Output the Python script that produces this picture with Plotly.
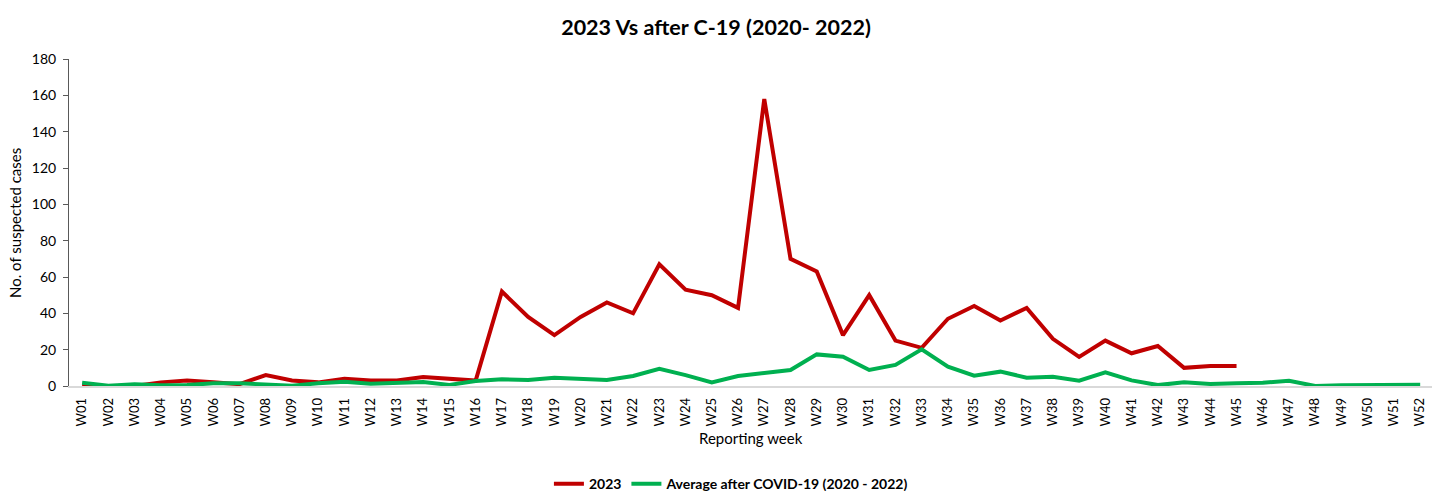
import plotly.graph_objects as go

# Reporting weeks W01..W52
weeks = [f"W{i:02d}" for i in range(1, 53)]

# Suspected cases in 2023 (reported up to W45)
cases_2023 = [0, 0, 0, 2, 3, 2, 1, 6, 3, 2, 4, 3, 3, 5, 4, 3,
              52, 38, 28, 38, 46, 40, 67, 53, 50, 43, 158, 70, 63, 28,
              50, 25, 21, 37, 44, 36, 43, 26, 16, 25, 18, 22, 10, 11, 11]

# Weekly average after COVID-19 (2020 - 2022)
avg_after_covid = [1.8, 0.2, 0.9, 0.4, 0.5, 1.5, 1.5, 0.6, 0.2, 1.5, 2.4, 1.2, 1.5,
                   2.2, 0.6, 2.8, 3.7, 3.3, 4.6, 3.7, 3.3, 5.5, 9.4, 6.0, 2.0, 5.5,
                   7.3, 8.8, 17.4, 16.1, 8.8, 11.6, 20.2, 10.6, 5.7, 7.9, 4.6, 5.1,
                   2.9, 7.5, 3.1, 0.5, 2.0, 1.1, 1.5, 1.8, 2.9, 0.0, 0.4, 0.4, 0.5, 0.7]

font_family = "Lato, 'Open Sans', sans-serif"

fig = go.Figure()
fig.add_trace(go.Scatter(
    x=weeks[:len(cases_2023)], y=cases_2023, mode="lines", name="<b>2023</b>",
    line=dict(color="#C00000", width=4),
))
fig.add_trace(go.Scatter(
    x=weeks, y=avg_after_covid, mode="lines",
    name="<b>Average after COVID-19 (2020 - 2022)</b>",
    line=dict(color="#00B050", width=4),
))

fig.update_layout(
    width=1432, height=491,
    margin=dict(l=69, r=0, t=59, b=105, autoexpand=False),
    paper_bgcolor="white", plot_bgcolor="white",
    font=dict(family=font_family, color="#000000", size=13),
    title=dict(text="<b>2023 Vs after C-19 (2020- 2022)</b>",
               x=0.5, xanchor="center", y=0.945, yanchor="middle",
               font=dict(size=21.5, family=font_family, color="#000000")),
    showlegend=True,
    legend=dict(orientation="h", x=0.486, xanchor="center",
                yref="container", y=0.014, yanchor="middle",
                font=dict(size=14, family=font_family, color="#000000"),
                itemwidth=30, tracegroupgap=0, bgcolor="rgba(0,0,0,0)"),
    xaxis=dict(
        type="category", categoryorder="array", categoryarray=weeks,
        range=[-0.5, 51.45], tickangle=-90, automargin=False,
        showline=True, linecolor="#D9D9D9", linewidth=1.5,
        showgrid=False, ticks="outside", ticklen=5, tickcolor="rgba(0,0,0,0)",
        tickfont=dict(size=13),
    ),
    yaxis=dict(
        range=[0, 180], dtick=20, showgrid=False, zeroline=False, automargin=False,
        showline=True, linecolor="#595959", linewidth=1,
        ticks="outside", ticklen=5, tickcolor="#595959", tickfont=dict(size=14),
        ticklabelstandoff=4,
    ),
    annotations=[
        dict(text="Reporting week", xref="paper", yref="paper", x=0.5, y=-0.16,
             xanchor="center", yanchor="middle", showarrow=False,
             font=dict(size=15, family=font_family, color="#000000")),
        dict(text="No. of suspected cases", xref="paper", yref="paper",
             x=-0.04, xanchor="center", y=0.5, yanchor="middle", textangle=-90,
             showarrow=False,
             font=dict(size=15, family=font_family, color="#000000")),
    ],
)

fig.write_html("out.html")
